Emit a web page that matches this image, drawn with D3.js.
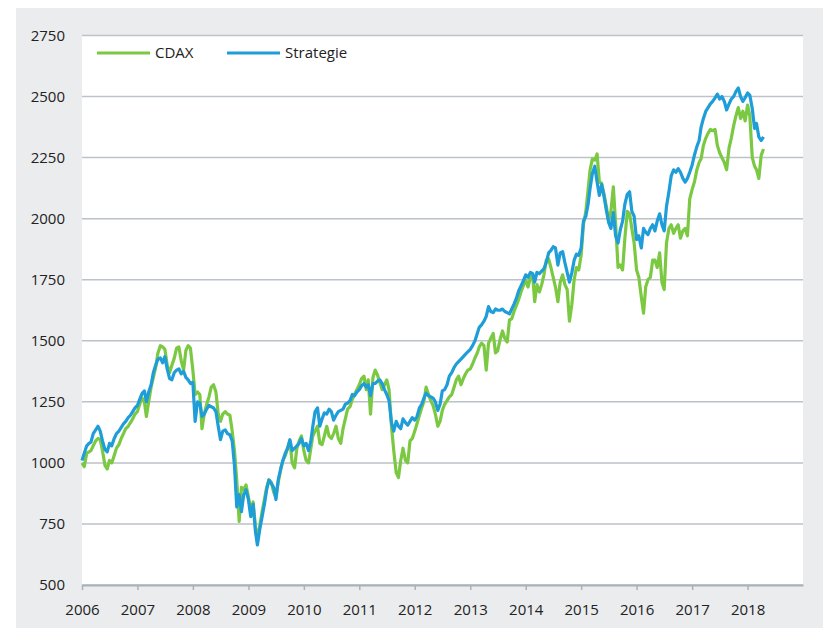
<!DOCTYPE html>
<html>
<head>
<meta charset="utf-8">
<script src="https://cdn.jsdelivr.net/npm/d3@7/dist/d3.min.js"></script>
<style>
  body { margin: 0; background: #fff; }
  text { font-family: "Open Sans", sans-serif; }
</style>
</head>
<body>
<svg id="chart" width="823" height="628"></svg>
<script>
// values, two points per month, Jan 2006 - Apr 2018
const strategie = [
  1010,1040,1070,1080,1085,1120,1135,1150,1130,1090,1055,1045,1080,1070,1100,1120,1130,1145,1160,1170,1185,1195,1210,1225,
  1235,1260,1285,1295,1250,1290,1320,1370,1400,1425,1430,1410,1435,1385,1345,1340,1370,1380,1385,1365,1375,1350,1340,1325,
  1330,1170,1250,1245,1190,1200,1220,1235,1230,1225,1210,1150,1095,1130,1135,1120,1115,1090,990,820,870,800,870,890,
  850,780,830,720,664,725,780,830,890,930,915,900,850,930,975,1010,1040,1060,1095,1050,1060,1070,1080,1100,
  1070,1080,1050,1090,1150,1210,1225,1150,1180,1205,1200,1220,1210,1175,1195,1210,1215,1220,1240,1245,1255,1280,1275,1290,
  1300,1315,1325,1310,1320,1275,1325,1325,1335,1340,1325,1300,1280,1255,1165,1130,1170,1150,1140,1180,1165,1155,1170,1185,
  1175,1190,1225,1240,1265,1285,1275,1270,1265,1250,1215,1240,1295,1300,1320,1355,1370,1390,1405,1415,1425,1435,1445,1455,
  1465,1480,1500,1530,1555,1565,1580,1600,1640,1620,1615,1630,1625,1625,1630,1620,1615,1610,1630,1650,1675,1705,1725,1745,
  1770,1760,1780,1775,1740,1780,1775,1785,1795,1820,1860,1870,1885,1880,1810,1860,1865,1820,1780,1740,1780,1830,1855,1850,
  1880,1990,2010,2060,2125,2185,2215,2150,2095,2140,2090,2035,1985,1960,2025,1930,1900,1955,1990,2060,2100,2110,2030,2010,
  1914,1930,1880,1960,1945,1935,1960,1975,1950,1990,2020,1975,1950,2050,2110,2175,2200,2190,2205,2190,2165,2150,2165,2190,
  2220,2260,2295,2320,2375,2410,2440,2455,2470,2480,2495,2510,2490,2500,2480,2445,2470,2490,2500,2520,2535,2500,2480,2495,
  2515,2505,2450,2370,2390,2335,2320,2335
]

const cdax = [
  1000,985,1040,1045,1050,1070,1090,1100,1095,1050,990,975,1010,1000,1030,1060,1075,1100,1120,1140,1150,1165,1180,1200,
  1210,1240,1265,1250,1190,1250,1310,1350,1390,1450,1480,1475,1465,1400,1370,1400,1430,1470,1475,1420,1380,1460,1480,1470,
  1380,1280,1290,1280,1140,1200,1240,1270,1310,1320,1290,1200,1170,1200,1210,1200,1195,1130,1050,930,760,900,890,910,
  860,800,840,740,690,740,800,850,900,930,920,880,860,920,970,1010,1030,1060,1090,1000,980,1060,1090,1110,
  1050,1010,1000,1060,1110,1130,1150,1080,1075,1110,1150,1110,1100,1120,1150,1100,1080,1140,1180,1220,1230,1260,1280,1300,
  1320,1345,1355,1300,1340,1200,1350,1380,1360,1330,1300,1320,1340,1300,1150,1050,960,940,1010,1060,1010,1000,1090,1100,
  1130,1160,1195,1225,1250,1310,1280,1255,1235,1200,1150,1170,1215,1240,1255,1270,1280,1310,1340,1355,1320,1345,1365,1380,
  1385,1405,1430,1450,1475,1490,1480,1380,1490,1510,1530,1450,1460,1505,1540,1510,1495,1585,1590,1620,1645,1670,1700,1725,
  1750,1720,1760,1765,1660,1730,1700,1730,1770,1830,1835,1800,1760,1720,1660,1740,1770,1730,1710,1580,1650,1750,1800,1790,
  1850,1975,2030,2120,2200,2245,2240,2265,2150,2145,2100,2050,1990,2030,2130,1980,1800,1810,1790,1920,2030,2020,1960,1900,
  1790,1760,1680,1613,1720,1750,1760,1830,1830,1800,1860,1740,1710,1900,1960,1975,1940,1960,1975,1920,1950,1960,1930,2080,
  2120,2150,2200,2230,2245,2300,2330,2350,2365,2360,2365,2300,2270,2250,2230,2200,2290,2330,2380,2420,2455,2410,2440,2400,
  2465,2420,2250,2215,2200,2165,2260,2285
]

const seriesNames = ["CDAX", "Strategie"]
const yTicks = [500, 750, 1000, 1250, 1500, 1750, 2000, 2250, 2500, 2750]
const yearTicks = [2006, 2007, 2008, 2009, 2010, 2011, 2012, 2013, 2014, 2015, 2016, 2017, 2018]

// point i sits on the 1st or 16th of its month
const dates = strategie.map((d, i) => new Date(2006, Math.floor(i / 2), i % 2 ? 16 : 1))

const colors = { CDAX: "#7bc943", Strategie: "#1f9dd9" }

const svg = d3.select("#chart")

const xScale = d3.scaleTime()
  .domain([new Date(2006, 0, 1), new Date(2019, 0, 1)])
  .range([82, 803])
const yScale = d3.scaleLinear().domain([500, 2750]).range([585, 35.5])

// grey frame and white plot area
svg.append("rect")
  .attr("x", 16).attr("y", 8)
  .attr("width", 807).attr("height", 620)
  .attr("fill", "#ebecee")
svg.append("rect")
  .attr("x", 82).attr("y", 35.5)
  .attr("width", 721).attr("height", 549.5)
  .attr("fill", "#fff")

// horizontal grid lines
svg.append("g")
  .selectAll("line")
  .data(yTicks)
  .join("line")
  .attr("x1", 82).attr("x2", 803)
  .attr("y1", d => yScale(d)).attr("y2", d => yScale(d))
  .attr("stroke", "#bcc2c8")
  .attr("stroke-width", 1.5)

// y labels
svg.append("g")
  .selectAll("text")
  .data(yTicks)
  .join("text")
  .attr("x", 65)
  .attr("y", d => yScale(d))
  .attr("dy", "0.35em")
  .attr("text-anchor", "end")
  .attr("font-size", 15)
  .attr("fill", "#222")
  .text(d => d)

// x axis
const xAxis = svg.append("g")
  .attr("transform", `translate(0,${yScale(500)})`)
  .call(d3.axisBottom(xScale)
    .tickValues(yearTicks.map(y => new Date(y, 0, 1)))
    .tickFormat(d3.timeFormat("%Y"))
    .tickSize(5)
    .tickSizeOuter(0)
    .tickPadding(14))

xAxis.select(".domain").attr("stroke", "#a9b2ba").attr("stroke-width", 2)
xAxis.selectAll(".tick line").attr("stroke", "#a9b2ba").attr("stroke-width", 1.5)
xAxis.selectAll(".tick text")
  .attr("font-size", 15)
  .attr("font-family", "Open Sans, sans-serif")
  .attr("fill", "#222")

// lines
const line = d3.line()
  .x((d, i) => xScale(dates[i]))
  .y(d => yScale(d))

const seriesData = { CDAX: cdax, Strategie: strategie }

svg.append("g")
  .selectAll("path")
  .data(seriesNames)
  .join("path")
  .attr("d", name => line(seriesData[name]))
  .attr("fill", "none")
  .attr("stroke", name => colors[name])
  .attr("stroke-width", 3.2)
  .attr("stroke-linejoin", "round")

// legend
const legend = svg.append("g")
  .selectAll("g")
  .data(seriesNames)
  .join("g")
  .attr("transform", (d, i) => `translate(${97 + i * 130},53)`)

legend.append("line")
  .attr("x1", 0).attr("x2", 53)
  .attr("stroke", d => colors[d])
  .attr("stroke-width", 3)

legend.append("text")
  .attr("x", 58)
  .attr("dy", "0.35em")
  .attr("font-size", 15)
  .attr("fill", "#222")
  .text(d => d)
</script>
</body>
</html>
